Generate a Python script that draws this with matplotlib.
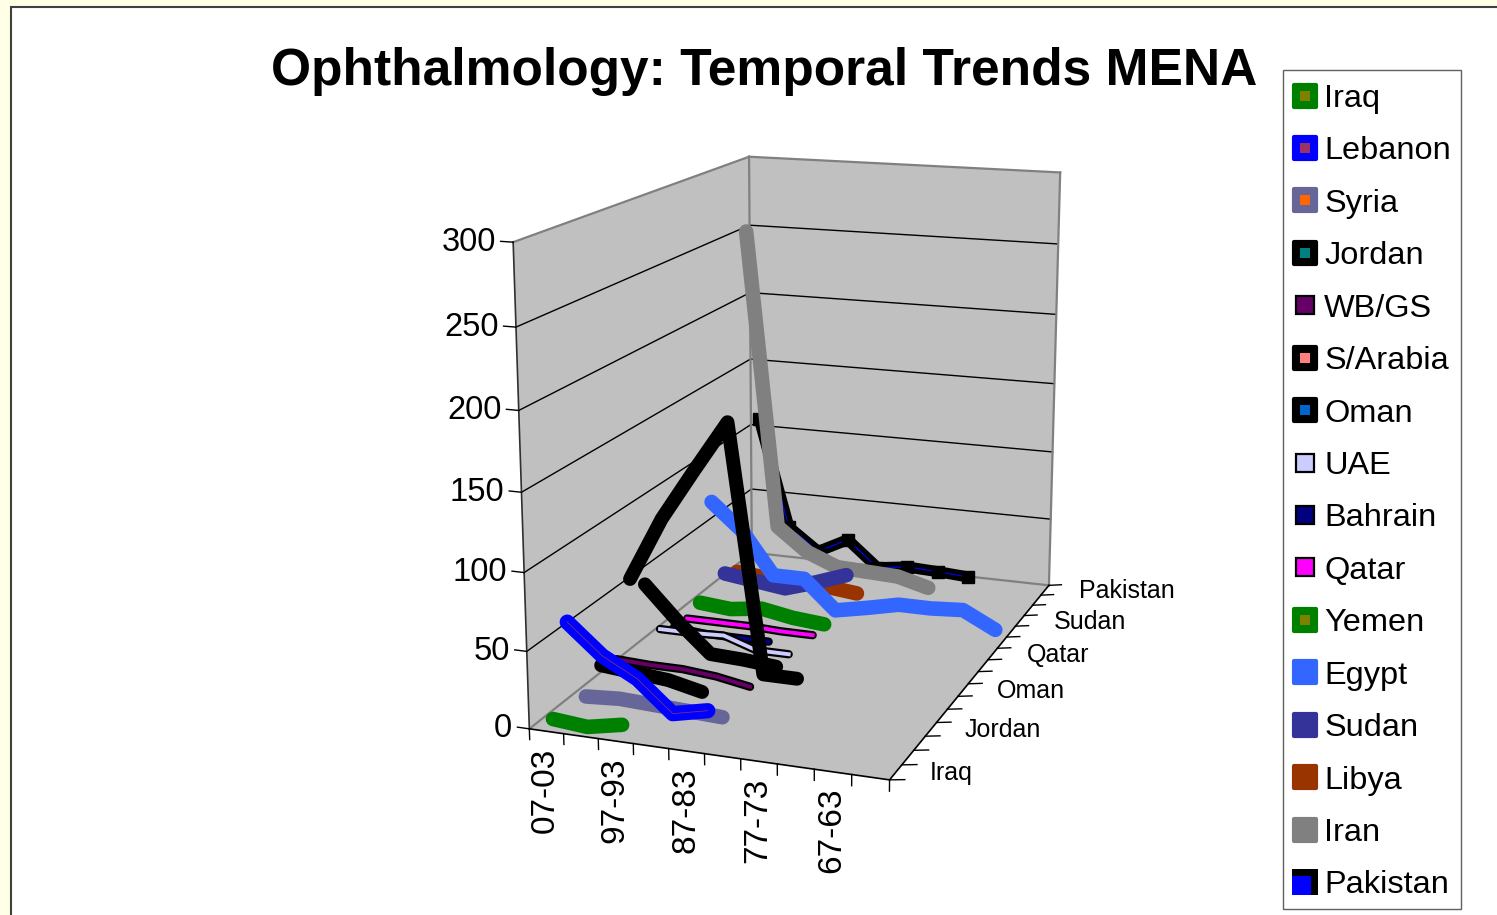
import numpy as np
import matplotlib
matplotlib.use('Agg')
from matplotlib import pyplot as plt
from matplotlib.lines import Line2D
from matplotlib.markers import MarkerStyle
from matplotlib.path import Path
from matplotlib.patches import Rectangle
from matplotlib.legend_handler import HandlerTuple
from mpl_toolkits.mplot3d import proj3d
from mpl_toolkits.mplot3d.art3d import Poly3DCollection

plt.rcParams['font.family'] = ['Liberation Sans', 'DejaVu Sans']

periods = ['07-03','02-98','97-93','92-88','87-83','82-78','77-73','72-68','67-63','62-58']
countries = ['Iraq','Lebanon','Syria','Jordan','WB/GS','S/Arabia','Oman','UAE','Bahrain','Qatar','Yemen','Egypt','Sudan','Libya','Iran','Pakistan']

iraq = [6.5,4.5,9]
lebanon = [61,42,30,10.5,15.5]
syria = [4,5.5,4.5,3.5,2.5]
jordan = [16.5,14.5,12.5,7.5]
wbgs = [12.5,11.5,11.5,9.5,5.5]
sarabia = [59.5,102.5,137,170.5,5.5,5.5]
oman = [48.5,25.5,5.5,4.5,2.5]
uae = [9.5,9.5,10.5,3,3]
bahrain = [3,1,1,1]
qatar = [1.5,1.5,1.5,0.5,0.5]
yemen = [5.5,3.5,6.5,2.5,0.5]
egypt = [72.5,53.5,23.5,23.5,3,7.5,12.5,12.5,14,2.5]
sudan = [12.5,9.5,6.5,13.5,21.5]
libya = [6.5,4.5,4.5,3,0.5]
iran = [253,36.5,19.5,10.5,9.5,8.5,2.5]
pakistan = [110,29.5,13,24.5,5.5,8.5,7.5,6]

series = [iraq,lebanon,syria,jordan,wbgs,sarabia,oman,uae,bahrain,qatar,yemen,egypt,sudan,libya,iran,pakistan]
outer = ['#008000','#0000FF','#666699','#000000','#000000','#000000','#000000','#000000','#000000','#000000','#008000','#3366FF','#333399','#993300','#808080','#000000']
inner = [None,'#993366',None,None,'#660066',None,None,'#CCCCFF','#000080','#FF00FF',None,None,None,None,None,'#0000FF']
widths = [10.5,11,10.5,10,6,10,10,6,6,6,10.5,10.5,10.5,10.5,10.5,8]
inner_w = [0,0.5,0,0,2.8,0,0,2.8,2.8,2.8,0,0,0,0,0,0.8]
swatch = ['#008000','#0000FF','#666699','#000000','#660066','#000000','#000000','#CCCCFF','#000080','#FF00FF','#008000','#3366FF','#333399','#993300','#808080',None]
swatch_in = ['#808000','#993366','#FF6600','#008080',None,'#FF8080','#0066CC',None,None,None,'#808000',None,None,None,None,None]

fig = plt.figure(figsize=(14.97,9.15),dpi=100,facecolor='#FFFFE6')
fig.add_artist(Rectangle((11/1497,-0.02),1.1,1-7/915+0.02,transform=fig.transFigure,fc='white',ec='#404040',lw=1.5,zorder=-2))
ax = fig.add_axes([402.9/1497,73.3/915,795.5/1497,795.5/915],projection='3d',computed_zorder=False)
ax.view_init(14.755,-70.223,0.008)
ax.set_box_aspect((0.944,1.535,1.229))
ax.set_proj_type('persp',focal_length=0.54)
ax.set_xlim(0,10)
ax.set_ylim(0,16)
ax.set_zlim(0,300)
ax.set_axis_off()
ax.patch.set_alpha(0)

def label(x,y,z,s,dx,dy,**kw):
    px,py,_ = proj3d.proj_transform(x,y,z,ax.get_proj())
    ax.annotate(s,(px,py),xytext=(dx,dy),textcoords='offset pixels',annotation_clip=False,zorder=50,**kw)

# walls and floor
floor = [(0,0,0),(10,0,0),(10,16,0),(0,16,0)]
lwall = [(0,0,0),(0,16,0),(0,16,300),(0,0,300)]
bwall = [(0,16,0),(10,16,0),(10,16,300),(0,16,300)]
ax.add_collection3d(Poly3DCollection([floor,lwall,bwall],facecolors='#C0C0C0',edgecolors='none',zorder=1))
for z in [50,100,150,200,250]:
    ax.plot([0,0,10],[0,16,16],[z,z,z],color='black',lw=1,zorder=2)
for xs,ys,zs in [([0,0],[0,16],[300,300]),([0,10],[16,16],[300,300]),([0,0],[16,16],[0,300]),([10,10],[16,16],[0,300]),([0,0],[0,16],[0,0]),([0,10],[16,16],[0,0])]:
    ax.plot(xs,ys,zs,color='#808080',lw=1.6,zorder=3)
ax.plot([0,0],[0,0],[0,300],color='#303030',lw=1.2,zorder=3)
ax.plot([0,10,10],[0,0,16],[0,0,0],color='black',lw=1.2,zorder=3)

# ticks and labels
for i in range(11):
    ax.plot([i,i],[0,0],[0,-7],color='black',lw=1,zorder=3)
for i in range(17):
    ax.plot([10,10.4],[i,i],[0,1.5],color='black',lw=1,zorder=3)
for z in np.arange(0,301,50):
    ax.plot([0,-0.35],[0,0],[z,z],color='black',lw=1,zorder=3)
    label(0,0,z,str(z),-17,0,ha='right',va='center',fontsize=23.5)
for i in range(0,10,2):
    label(i+0.5,0,0,periods[i],-1,-16,rotation=90,ha='center',va='top',fontsize=24)
for i in range(0,16,3):
    label(10,i+0.5,0,countries[i],34,-1,ha='left',va='center',fontsize=18)

# lines, back to front
for i in range(15,-1,-1):
    xs = np.arange(len(series[i]))+0.6
    ys = np.full(len(series[i]),i+0.2)
    ax.plot(xs,ys,series[i],color=outer[i],lw=widths[i],solid_capstyle='round',solid_joinstyle='round',zorder=30-i)
    if inner[i] is not None:
        ax.plot(xs,ys,series[i],color=inner[i],lw=inner_w[i],zorder=30-i)
    if i == 15:
        ax.plot(xs,ys,series[i],ls='none',marker='s',ms=8,color='black',zorder=30-i)

fig.text(764.5/1497,1-71/915,'Ophthalmology: Temporal Trends MENA',ha='center',va='center',fontsize=37.1,fontweight='bold')

handles = []
round_sq = MarkerStyle('s',joinstyle='round')
for i in range(16):
    if i == 15:
        blue = Path([(-1,-1),(0.45,-1),(0.45,0.45),(-1,0.45),(-1,-1)])
        h = (Line2D([],[],ls='none',marker='s',ms=19,color='black',mew=0),
             Line2D([],[],ls='none',marker=blue,ms=19,color='#0000FF',mew=0))
    elif swatch_in[i] is None and i in (4,7,8,9):
        h = (Line2D([],[],ls='none',marker='s',ms=13,mfc=swatch[i],mec='black',mew=1.6),)
    elif swatch_in[i] is None:
        h = (Line2D([],[],ls='none',marker=round_sq,ms=16,color=swatch[i],mew=3),)
    else:
        h = (Line2D([],[],ls='none',marker=round_sq,ms=16,color=swatch[i],mew=3),
             Line2D([],[],ls='none',marker='s',ms=7.5,color=swatch_in[i],mew=0))
    handles.append(h)
fig.add_artist(Rectangle((1283/1497,1-909/915),178/1497,839/915,transform=fig.transFigure,fc='white',ec='#606060',lw=1,zorder=-1))
fig.legend(handles,countries,loc='upper left',bbox_to_anchor=(1290.5/1497,1-84/915),borderaxespad=0,
    handler_map={tuple:HandlerTuple(ndivide=1,pad=0)},fontsize=23.4,labelspacing=0.69,handlelength=0.9,handletextpad=0.14,
    frameon=False,borderpad=0,numpoints=1)

fig.savefig('out.png')
